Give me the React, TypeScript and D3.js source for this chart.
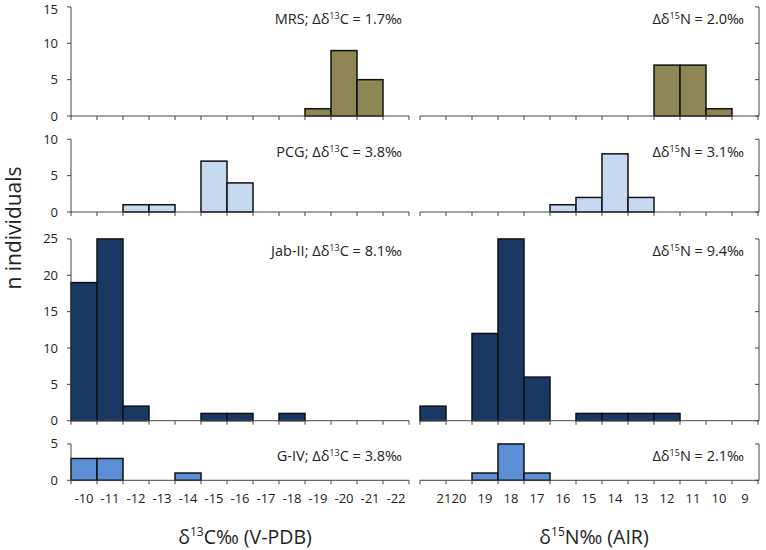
import React from "react";
import * as d3 from "d3";

const cLabels = ["-10", "-11", "-12", "-13", "-14", "-15", "-16", "-17", "-18", "-19", "-20", "-21", "-22"];
const nLabels = ["21", "20", "19", "18", "17", "16", "15", "14", "13", "12", "11", "10", "9"];

const mrsC = [0, 0, 0, 0, 0, 0, 0, 0, 0, 1, 9, 5, 0];
const mrsN = [0, 0, 0, 0, 0, 0, 0, 0, 0, 7, 7, 1, 0];
const pcgC = [0, 0, 1, 1, 0, 7, 4, 0, 0, 0, 0, 0, 0];
const pcgN = [0, 0, 0, 0, 0, 1, 2, 8, 2, 0, 0, 0, 0];
const jabC = [19, 25, 2, 0, 0, 1, 1, 0, 1, 0, 0, 0, 0];
const jabN = [2, 0, 12, 25, 6, 0, 1, 1, 1, 1, 0, 0, 0];
const gC = [3, 3, 0, 0, 1, 0, 0, 0, 0, 0, 0, 0, 0];
const gN = [0, 0, 1, 5, 1, 0, 0, 0, 0, 0, 0, 0, 0];

const panels = [
  { name: "MRS", dC: "1.7", dN: "2.0", max: 15, c: mrsC, n: mrsN, color: "#8E8654", base: 116 },
  { name: "PCG", dC: "3.8", dN: "3.1", max: 10, c: pcgC, n: pcgN, color: "#C6D9F1", base: 212 },
  { name: "Jab-II", dC: "8.1", dN: "9.4", max: 25, c: jabC, n: jabN, color: "#193862", base: 420.7 },
  { name: "G-IV", dC: "3.8", dN: "2.1", max: 5, c: gC, n: gN, color: "#5B8ED4", base: 480.3 },
];

const PX_PER_UNIT = 7.27;
const FONT = "'Open Sans', 'Noto Sans', sans-serif";
const AXIS = "#444";

export default function App() {
  const xC = d3.scaleBand<string>().domain(cLabels).range([71, 409]).paddingInner(0).paddingOuter(0);
  const xN = d3.scaleBand<string>().domain(nLabels).range([420, 758]).paddingInner(0).paddingOuter(0);

  const renderPanel = (p: typeof panels[number], idx: number) => {
    const y = d3.scaleLinear().domain([0, p.max]).range([p.base, p.base - p.max * PX_PER_UNIT]);
    const ticks = d3.range(0, p.max + 0.001, 5);
    const textY = y(p.max) + 17.5;
    const bars = (vals: number[], labels: string[], x: d3.ScaleBand<string>, key: string) =>
      vals.map((v, i) =>
        v > 0 ? (
          <rect
            key={key + i}
            x={x(labels[i])!}
            y={y(v)}
            width={x.bandwidth()}
            height={y(0) - y(v)}
            fill={p.color}
            stroke="#111"
            strokeWidth={1.5}
          />
        ) : null
      );
    const xTicks = (x: d3.ScaleBand<string>, labels: string[]) => {
      const edges = labels.map((l) => x(l)!).concat([x.range()[1]]);
      return edges.map((e, i) => (
        <line key={i} x1={e} x2={e} y1={p.base} y2={p.base + 4} stroke={AXIS} strokeWidth={1} />
      ));
    };
    return (
      <g key={idx}>
        {bars(p.c, cLabels, xC, "c")}
        {bars(p.n, nLabels, xN, "n")}
        <line x1={71} x2={71} y1={y(p.max)} y2={p.base} stroke={AXIS} strokeWidth={1} />
        {ticks.map((t) => (
          <g key={"lt" + t}>
            <line x1={67} x2={71} y1={y(t)} y2={y(t)} stroke={AXIS} strokeWidth={1} />
            <text x={58} y={Math.max(y(t) + 4.5, 14)} textAnchor="end" fontSize={13} fontFamily={FONT} fill="#222">
              {t}
            </text>
          </g>
        ))}
        <line x1={759} x2={759} y1={y(p.max)} y2={p.base} stroke={AXIS} strokeWidth={1} />
        {ticks.map((t) => (
          <line key={"rt" + t} x1={755} x2={759} y1={y(t)} y2={y(t)} stroke={AXIS} strokeWidth={1} />
        ))}
        <line x1={71} x2={409} y1={p.base} y2={p.base} stroke={AXIS} strokeWidth={1} />
        <line x1={420} x2={759} y1={p.base} y2={p.base} stroke={AXIS} strokeWidth={1} />
        {xTicks(xC, cLabels)}
        {xTicks(xN, nLabels)}
        <text x={402} y={textY} textAnchor="end" fontSize={14.5} fontFamily={FONT} fill="#222">
          {p.name}; Δδ<tspan fontSize={9} dy={-5}>13</tspan>
          <tspan dy={5}>C = {p.dC}‰</tspan>
        </text>
        <text x={744} y={textY} textAnchor="end" fontSize={14.5} fontFamily={FONT} fill="#222">
          Δδ<tspan fontSize={9} dy={-5}>15</tspan>
          <tspan dy={5}>N = {p.dN}‰</tspan>
        </text>
      </g>
    );
  };

  const nLabelPos = (l: string) => {
    const c = xN(l)! + xN.bandwidth() / 2;
    if (l === "21") return c + 11;
    return c;
  };

  return (
    <svg width={766} height={550} style={{ position: "absolute", left: 0, top: 0, background: "#fff" }}>
      <rect width={766} height={550} fill="#fff" />
      {panels.map(renderPanel)}
      {cLabels.map((l) => (
        <text key={"cl" + l} x={xC(l)! + xC.bandwidth() / 2} y={503} textAnchor="middle" fontSize={13} fontFamily={FONT} fill="#222">
          {l}
        </text>
      ))}
      {nLabels.map((l) => (
        <text key={"nl" + l} x={nLabelPos(l)} y={503} textAnchor="middle" fontSize={13} fontFamily={FONT} fill="#222">
          {l}
        </text>
      ))}
      <text x={245} y={544} textAnchor="middle" fontSize={19.5} fontFamily={FONT} fill="#222">
        δ<tspan fontSize={12} dy={-8}>13</tspan>
        <tspan dy={8}>C‰ (V-PDB)</tspan>
      </text>
      <text x={594} y={544} textAnchor="middle" fontSize={19.5} fontFamily={FONT} fill="#222">
        δ<tspan fontSize={12} dy={-8}>15</tspan>
        <tspan dy={8}>N‰ (AIR)</tspan>
      </text>
      <text
        transform="translate(21,228) rotate(-90)"
        textAnchor="middle"
        fontSize={21}
        fontFamily={FONT}
        fill="#222"
      >
        n individuals
      </text>
    </svg>
  );
}
